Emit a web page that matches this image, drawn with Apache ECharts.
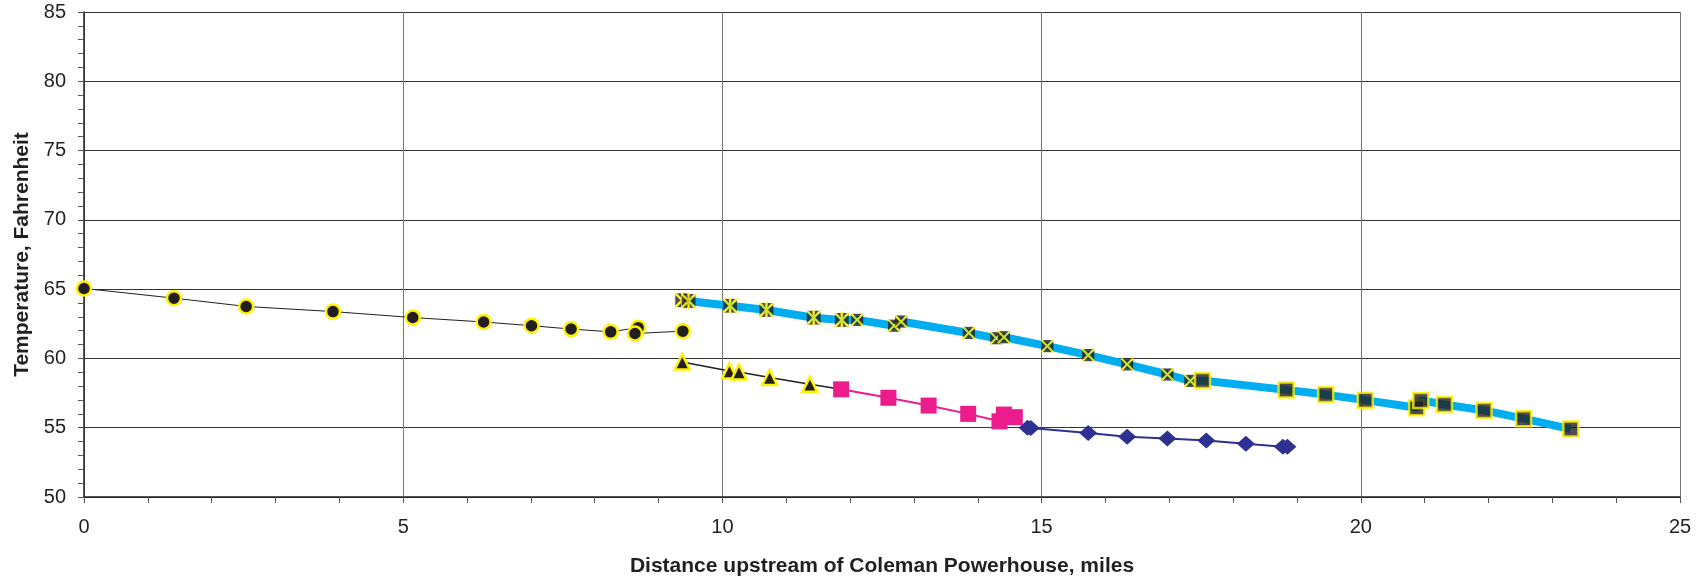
<!DOCTYPE html>
<html>
<head>
<meta charset="utf-8">
<script src="https://cdn.jsdelivr.net/npm/echarts@6/dist/echarts.min.js"></script>
<style>
html,body{margin:0;padding:0;background:#fff;}
#chart{width:1704px;height:579px;}
</style>
</head>
<body>
<div id="chart"></div>
<script>
// ---- Data (miles upstream, temperature F) ----
const circleX = [0, 1.41, 2.54, 3.90, 5.15, 6.26, 7.01, 7.63, 8.25, 8.68, 8.63, 9.38];
const circleY = [65.05, 64.35, 63.75, 63.38, 62.95, 62.63, 62.36, 62.12, 61.92, 62.22, 61.8, 61.97];

const triX = [9.37, 10.11, 10.26, 10.74, 11.37, 11.86];
const triY = [59.75, 59.1, 59.02, 58.62, 58.13, 57.77];

const pinkX = [11.86, 12.60, 13.23, 13.85, 14.34, 14.41, 14.58];
const pinkY = [57.77, 57.16, 56.6, 56.0, 55.46, 55.95, 55.76];

const navyX = [14.78, 14.83, 15.73, 16.34, 16.97, 17.58, 18.20, 18.78, 18.85];
const navyY = [55.0, 54.98, 54.61, 54.35, 54.22, 54.07, 53.84, 53.62, 53.62];

const starX = [9.37, 9.47, 10.12, 10.69, 11.43, 11.87];
const starY = [64.2, 64.15, 63.8, 63.5, 62.94, 62.78];

const xMarkX = [12.11, 12.69, 12.80, 13.86, 14.29, 14.41, 15.09, 15.73, 16.34, 16.97, 17.33];
const xMarkY = [62.78, 62.36, 62.66, 61.84, 61.46, 61.53, 60.89, 60.24, 59.57, 58.84, 58.38];

const sqX = [17.52, 18.83, 19.45, 20.07, 20.875, 20.94, 21.31, 21.93, 22.55, 23.29];
const sqY = [58.41, 57.73, 57.39, 56.99, 56.44, 56.97, 56.68, 56.25, 55.65, 54.9];

const xTicks = [0, 5, 10, 15, 20, 25];
const yTicks = [50, 55, 60, 65, 70, 75, 80, 85];

// ---- helpers ----
const pairs = (xs, ys) => xs.map((x, i) => [x, ys[i]]);
const YELLOW = '#FFF200';
const BLACK = '#231F20';

function svgSymbol(withBar) {
  const svg = "<svg xmlns='http://www.w3.org/2000/svg' width='16' height='16'>" +
    "<rect x='1.5' y='1.5' width='13' height='13' fill='" + BLACK + "'/>" +
    "<path d='M1.5 1.5L14.5 14.5M14.5 1.5L1.5 14.5" + (withBar ? "M8 0.5L8 15.5" : "") +
    "' stroke='" + YELLOW + "' stroke-width='2.2' fill='none'/></svg>";
  return 'image://data:image/svg+xml;charset=utf-8,' + encodeURIComponent(svg);
}

const triData = pairs(triX, triY).map((p, i, a) =>
  i === a.length - 1 ? { value: p, symbol: 'none' } : { value: p });

const chart = echarts.init(document.getElementById('chart'));
const font = 'Liberation Sans, Arial, sans-serif';

chart.setOption({
  animation: false,
  backgroundColor: '#fff',
  grid: { left: 84, right: 24, top: 12, bottom: 82, containLabel: false, outerBoundsMode: 'none' },
  xAxis: {
    type: 'value', min: 0, max: 25, interval: 5,
    name: 'Distance upstream of Coleman Powerhouse, miles',
    nameLocation: 'middle', nameGap: 59,
    nameTextStyle: { fontFamily: font, fontSize: 21, fontWeight: 'bold', color: BLACK },
    axisLine: { show: true, onZero: false, lineStyle: { color: BLACK, width: 1.5 } },
    axisTick: { show: true, length: 6, lineStyle: { color: '#555' } },
    minorTick: { show: true, splitNumber: 5, length: 6, lineStyle: { color: '#555' } },
    axisLabel: { fontFamily: font, fontSize: 20, color: BLACK, margin: 20,
      formatter: v => xTicks.includes(v) ? String(v) : '' },
    splitLine: { show: true, lineStyle: { color: '#777', width: 1 } }
  },
  yAxis: {
    type: 'value', min: 50, max: 85, interval: 5,
    name: 'Temperature, Fahrenheit',
    nameLocation: 'middle', nameGap: 47, nameRotate: 90,
    nameTextStyle: { fontFamily: font, fontSize: 21, fontWeight: 'bold', color: BLACK },
    axisLine: { show: true, onZero: false, lineStyle: { color: BLACK, width: 1.5 } },
    axisTick: { show: true, length: 6, lineStyle: { color: '#555' } },
    minorTick: { show: true, splitNumber: 5, length: 6, lineStyle: { color: '#555' } },
    axisLabel: { fontFamily: font, fontSize: 20, color: BLACK, margin: 18,
      formatter: v => yTicks.includes(v) ? String(v) : '' },
    splitLine: { show: true, lineStyle: { color: '#333', width: 1 } }
  },
  series: [
    {
      type: 'line', data: pairs(circleX, circleY), symbol: 'circle', symbolSize: 14,
      showSymbol: true, z: 3,
      lineStyle: { color: BLACK, width: 1 },
      itemStyle: { color: BLACK, borderColor: YELLOW, borderWidth: 2.5 }
    },
    {
      type: 'line', data: triData, symbol: 'triangle', symbolSize: 15,
      showSymbol: true, z: 3,
      lineStyle: { color: BLACK, width: 1.5 },
      itemStyle: { color: BLACK, borderColor: YELLOW, borderWidth: 2.5 }
    },
    {
      type: 'line', data: pairs(pinkX, pinkY), symbol: 'rect', symbolSize: 16,
      showSymbol: true, z: 4,
      lineStyle: { color: '#EC1C8C', width: 2 },
      itemStyle: { color: '#EC1C8C' }
    },
    {
      type: 'line', data: pairs(navyX, navyY), symbol: 'diamond', symbolSize: [18, 16],
      showSymbol: true, z: 4,
      lineStyle: { color: '#2E3192', width: 2 },
      itemStyle: { color: '#2E3192' }
    },
    {
      type: 'line', data: pairs(starX.concat(xMarkX, sqX), starY.concat(xMarkY, sqY)),
      showSymbol: false, symbol: 'none', z: 5,
      lineStyle: { color: '#00AEEF', width: 8 }
    },
    {
      type: 'scatter', data: pairs(starX, starY), symbol: svgSymbol(true), symbolSize: 17, z: 6
    },
    {
      type: 'scatter', data: pairs(xMarkX, xMarkY), symbol: svgSymbol(false), symbolSize: 15, z: 6
    },
    {
      type: 'scatter', data: pairs(sqX, sqY), symbol: 'rect', symbolSize: 15, z: 7,
      itemStyle: { color: BLACK, borderColor: YELLOW, borderWidth: 2.5 }
    }
  ]
});
</script>
</body>
</html>
